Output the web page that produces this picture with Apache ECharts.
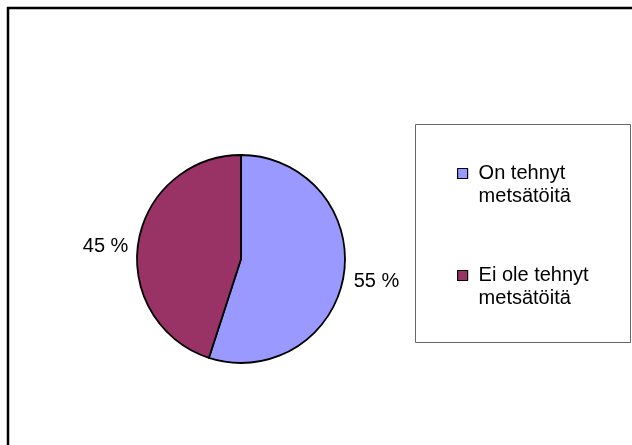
<!DOCTYPE html>
<html>
<head>
<meta charset="utf-8">
<script src="https://cdn.jsdelivr.net/npm/echarts@6/dist/echarts.min.js"></script>
<style>html,body{margin:0;padding:0;background:#fff;}#c{width:632px;height:445px;}</style>
</head>
<body>
<div id="c"></div>
<script>
const categories = ['On tehnyt\nmetsätöitä', 'Ei ole tehnyt\nmetsätöitä'];
const values = [55, 45];
const colors = ['#9999FF', '#993366'];

const chart = echarts.init(document.getElementById('c'), null, {renderer: 'canvas'});
const font = "'Liberation Sans', Arial, sans-serif";
chart.setOption({
  backgroundColor: '#ffffff',
  animation: false,
  graphic: [
    {type: 'rect', shape: {x: 8, y: 8, width: 700, height: 500}, style: {fill: 'none', stroke: '#000', lineWidth: 2.5}, z: 100},
    {type: 'rect', shape: {x: 415.5, y: 124.5, width: 215, height: 218}, style: {fill: 'none', stroke: '#666', lineWidth: 1}, z: 100}
  ],
  legend: {
    orient: 'vertical',
    left: 457,
    top: 139,
    padding: 0,
    itemWidth: 10,
    itemHeight: 10,
    itemGap: 33,
    icon: 'rect',
    selectedMode: false,
    itemStyle: {borderColor: '#000', borderWidth: 1.2},
    formatter: name => '\n' + name,
    textStyle: {fontFamily: font, fontSize: 20, color: '#000', lineHeight: 23, padding: [0, 0, 0, 6]},
    data: categories
  },
  series: [{
    type: 'pie',
    center: [241, 259],
    radius: 104,
    startAngle: 90,
    clockwise: true,
    avoidLabelOverlap: false,
    itemStyle: {borderColor: '#000', borderWidth: 1.8},
    label: {
      show: true,
      position: 'outside',
      formatter: '{c} %',
      fontFamily: font,
      fontSize: 20,
      color: '#000',
      distanceToLabelLine: 5,
      offset: [0, 5]
    },
    labelLine: {show: false, length: 5, length2: 0},
    emphasis: {disabled: true},
    data: categories.map((n, i) => ({name: n, value: values[i], itemStyle: {color: colors[i]}}))
  }]
});
</script>
</body>
</html>
